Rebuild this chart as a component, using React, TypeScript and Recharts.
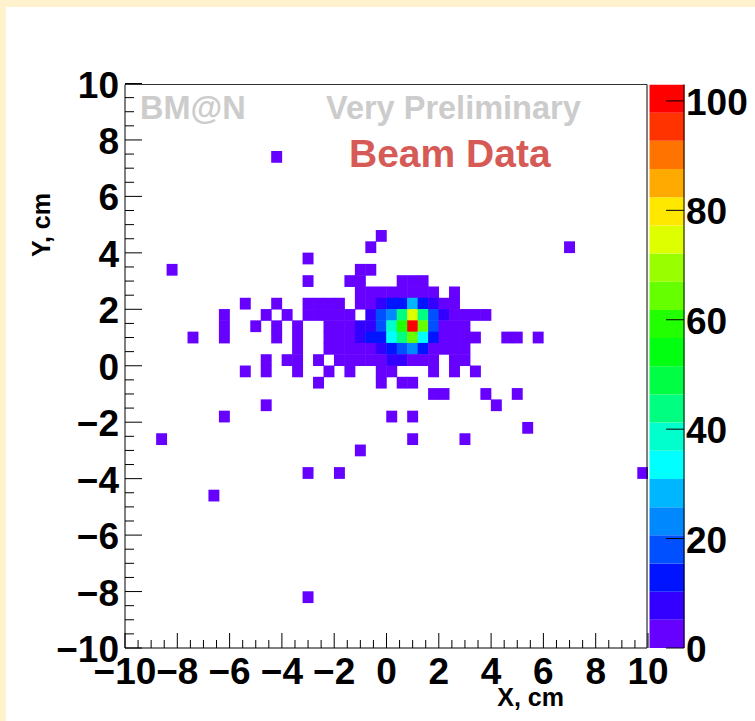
import React from 'react';
import {
  ScatterChart, Scatter, XAxis, YAxis, BarChart, Bar,
} from 'recharts';

// ---------------- data ----------------
const BIN = 0.4; // cm, bin width in X and Y

// lower-left corner of every non-empty bin (x, y) and its count
const cellX: number[] = [
  -4.4,
  -0.4,
  -0.8, 6.8,
  -3.2,
  -8.4, -1.2, -0.8,
  -3.2, -1.6, -1.2, 0.4, 0.8, 1.2,
  -1.2, -0.8, -0.4, 0.0, 0.4, 0.8, 1.2, 1.6, 2.4,
  -5.6, -4.4, -3.2, -2.8, -2.4, -2.0, -1.2, -0.8, -0.4, 0.0, 0.4, 0.8, 1.2, 1.6, 2.0, 2.4,
  -6.4, -4.8, -4.0, -3.2, -2.8, -2.4, -2.0, -1.6, -0.8, -0.4, 0.0, 0.4, 0.8, 1.2, 1.6, 2.0, 2.4, 2.8, 3.2, 3.6,
  -6.4, -5.2, -4.4, -3.6, -2.4, -2.0, -1.6, -1.2, -0.8, -0.4, 0.0, 0.4, 0.8, 1.2, 1.6, 2.0, 2.4, 2.8,
  -7.6, -6.4, -4.4, -3.6, -2.4, -2.0, -1.6, -1.2, -0.8, -0.4, 0.0, 0.4, 0.8, 1.2, 1.6, 2.0, 2.4, 2.8, 3.2, 4.4, 4.8, 5.6,
  -3.6, -2.4, -2.0, -1.6, -1.2, -0.8, -0.4, 0.0, 0.4, 0.8, 1.2, 1.6, 2.0, 2.4, 2.8,
  -4.8, -4.0, -3.6, -2.8, -2.0, -1.6, -1.2, -0.8, -0.4, 0.0, 0.4, 0.8, 1.2, 1.6, 2.4, 2.8,
  -5.6, -4.8, -3.6, -2.4, -1.6, -0.4, 0.0, 1.6, 2.4, 3.2,
  -2.8, -0.4, 0.4, 0.8,
  1.6, 2.0, 3.6, 4.8,
  -4.8, 4.0,
  -6.4, 0.0, 0.8,
  5.2,
  -8.8, 0.8, 2.8,
  -1.2,
  -3.2, -2.0, 9.6,
  -6.8,
  -3.2,
];

const cellY: number[] = [
  7.2,
  4.4,
  4.0, 4.0,
  3.6,
  3.2, 3.2, 3.2,
  2.8, 2.8, 2.8, 2.8, 2.8, 2.8,
  2.4, 2.4, 2.4, 2.4, 2.4, 2.4, 2.4, 2.4, 2.4,
  2.0, 2.0, 2.0, 2.0, 2.0, 2.0, 2.0, 2.0, 2.0, 2.0, 2.0, 2.0, 2.0, 2.0, 2.0, 2.0,
  1.6, 1.6, 1.6, 1.6, 1.6, 1.6, 1.6, 1.6, 1.6, 1.6, 1.6, 1.6, 1.6, 1.6, 1.6, 1.6, 1.6, 1.6, 1.6, 1.6,
  1.2, 1.2, 1.2, 1.2, 1.2, 1.2, 1.2, 1.2, 1.2, 1.2, 1.2, 1.2, 1.2, 1.2, 1.2, 1.2, 1.2, 1.2,
  0.8, 0.8, 0.8, 0.8, 0.8, 0.8, 0.8, 0.8, 0.8, 0.8, 0.8, 0.8, 0.8, 0.8, 0.8, 0.8, 0.8, 0.8, 0.8, 0.8, 0.8, 0.8,
  0.4, 0.4, 0.4, 0.4, 0.4, 0.4, 0.4, 0.4, 0.4, 0.4, 0.4, 0.4, 0.4, 0.4, 0.4,
  0.0, 0.0, 0.0, 0.0, 0.0, 0.0, 0.0, 0.0, 0.0, 0.0, 0.0, 0.0, 0.0, 0.0, 0.0, 0.0,
  -0.4, -0.4, -0.4, -0.4, -0.4, -0.4, -0.4, -0.4, -0.4, -0.4,
  -0.8, -0.8, -0.8, -0.8,
  -1.2, -1.2, -1.2, -1.2,
  -1.6, -1.6,
  -2.0, -2.0, -2.0,
  -2.4,
  -2.8, -2.8, -2.8,
  -3.2,
  -4.0, -4.0, -4.0,
  -4.8,
  -8.4,
];

const cellCount: number[] = [
  1,
  1,
  1, 1,
  1,
  1, 1, 1,
  1, 1, 1, 1, 2, 1,
  1, 2, 2, 3, 3, 4, 2, 1, 1,
  1, 1, 1, 1, 1, 2, 2, 4, 8, 13, 12, 28, 12, 7, 3, 1,
  1, 1, 1, 1, 2, 1, 2, 3, 9, 17, 23, 44, 75, 45, 18, 9, 4, 2, 1, 1,
  1, 1, 1, 1, 2, 3, 4, 8, 9, 19, 38, 58, 103, 64, 18, 5, 2, 1,
  1, 1, 1, 1, 1, 2, 3, 7, 13, 14, 34, 43, 65, 33, 12, 4, 2, 1, 1, 1, 1, 1,
  1, 1, 2, 2, 3, 4, 8, 13, 18, 23, 13, 4, 2, 1, 1,
  1, 1, 1, 1, 1, 2, 2, 3, 4, 7, 8, 5, 3, 2, 1, 1,
  1, 1, 1, 1, 1, 2, 2, 1, 1, 1,
  1, 1, 1, 1,
  1, 1, 1, 1,
  1, 1,
  1, 1, 1,
  1,
  1, 1, 1,
  1,
  1, 1, 1,
  1,
  1,
];

const xMajorTicks: number[] = [-10, -8, -6, -4, -2, 0, 2, 4, 6, 8, 10];
const yMajorTicks: number[] = [-10, -8, -6, -4, -2, 0, 2, 4, 6, 8, 10];
const zTicks: number[] = [0, 20, 40, 60, 80, 100];

// ROOT-like 20-contour palette (bottom -> top)
const paletteColors: string[] = [
  '#6600ff', '#3300ff', '#0014ff', '#0050ff', '#0088ff',
  '#00b6ff', '#00ffff', '#00ffcc', '#00ff80', '#00ff44',
  '#00ff11', '#22ff00', '#66ff00', '#99ff00', '#ddff00',
  '#ffe800', '#ffaa00', '#ff7400', '#ff3300', '#ff0000',
];

// ---------------- derived ----------------
const W = 755;
const H = 721;
const AX = 1; // thickness reserved for each axis
const PLOT = { left: 125, right: 647, top: 84.5, bottom: 648 };
const M = { left: PLOT.left - AX, right: W - PLOT.right - AX, top: PLOT.top - AX, bottom: H - PLOT.bottom - AX };
const PLOT_W = PLOT.right - PLOT.left;
const PLOT_H = PLOT.bottom - PLOT.top;
const CELL_W = (PLOT_W * BIN) / 20;
const CELL_H = (PLOT_H * BIN) / 20;

const zMax = Math.max(...cellCount);
const nBands = paletteColors.length;
const colorFor = (v: number) =>
  paletteColors[Math.min(nBands - 1, Math.floor(v / (zMax / nBands)))];

const cells = cellX.map((x, i) => ({ x: x + BIN / 2, y: cellY[i] + BIN / 2, z: cellCount[i] }));

const minorFrom = (majors: number[]) => {
  const out: number[] = [];
  for (let i = 0; i < majors.length - 1; i++) {
    const a = majors[i];
    const step = (majors[i + 1] - a) / 4;
    for (let j = 0; j < 4; j++) out.push(a + j * step);
  }
  out.push(majors[majors.length - 1]);
  return out;
};
const xTicks = minorFrom(xMajorTicks);
const yTicks = minorFrom(yMajorTicks);

const paletteRow = [
  paletteColors.reduce((acc: any, _c, i) => {
    acc[`b${i}`] = zMax / nBands;
    return acc;
  }, { name: 'z' }),
];

const FONT = '"Liberation Sans", Arial, Helvetica, sans-serif';
const fmt = (v: number) => (v < 0 ? '\u2212' + Math.abs(v) : String(v));
const isMajor = (v: number, majors: number[]) => majors.some((m) => Math.abs(m - v) < 1e-6);

const XTick = (props: any) => {
  const { x, payload } = props;
  const v = payload.value;
  const major = isMajor(v, xMajorTicks);
  const y0 = PLOT.bottom;
  return (
    <g>
      <line x1={x} x2={x} y1={y0} y2={y0 - (major ? 15 : 8)} stroke="#000" strokeWidth={1} />
      {major && (
        <text x={x} y={y0 + 36} textAnchor="middle" fontFamily={FONT} fontWeight="bold" fontSize={37} fill="#000">
          {fmt(v)}
        </text>
      )}
    </g>
  );
};

const YTick = (props: any) => {
  const { y, payload } = props;
  const v = payload.value;
  const major = isMajor(v, yMajorTicks);
  const x0 = PLOT.left;
  return (
    <g>
      <line x1={x0} x2={x0 + (major ? 17 : 9)} y1={y} y2={y} stroke="#000" strokeWidth={1} />
      {major && (
        <text x={x0 - 6} y={y + 14} textAnchor="end" fontFamily={FONT} fontWeight="bold" fontSize={37} fill="#000">
          {fmt(v)}
        </text>
      )}
    </g>
  );
};

const PAL_RIGHT = 684;
const ZTick = (props: any) => {
  const { y, payload } = props;
  const x0 = PAL_RIGHT;
  return (
    <g>
      <line x1={x0 - 18} x2={x0} y1={y} y2={y} stroke="#000" strokeWidth={1} />
      <text x={x0 + 2} y={y + 14} textAnchor="start" fontFamily={FONT} fontWeight="bold" fontSize={37} fill="#000">
        {String(payload.value)}
      </text>
    </g>
  );
};

const renderCell = (props: any) => {
  const { cx, cy, payload } = props;
  if (cx == null || cy == null) return <g />;
  return (
    <rect
      x={cx - CELL_W / 2 - 0.25}
      y={cy - CELL_H / 2 - 0.25}
      width={CELL_W + 0.5}
      height={CELL_H + 0.5}
      fill={colorFor(payload.z)}
      stroke="none"
    />
  );
};

export default function App() {
  return (
    <div style={{ position: 'absolute', left: 0, top: 0, width: W, height: H, background: '#ffffff', overflow: 'hidden' }}>
      <div style={{ position: 'absolute', left: 0, top: 0, width: W, height: 7, background: '#fff2cc' }} />
      <div style={{ position: 'absolute', left: 0, top: 0, width: 6, height: H, background: '#fff2cc' }} />

      <div style={{ position: 'absolute', left: 0, top: 0 }}>
        <ScatterChart width={W} height={H} margin={M}>
          <XAxis
            type="number"
            dataKey="x"
            domain={[-10, 10]}
            allowDataOverflow
            ticks={xTicks}
            interval={0}
            height={AX}
            tickSize={0}
            tickMargin={0}
            tickLine={false}
            axisLine={false}
            tick={<XTick />}
          />
          <YAxis
            type="number"
            dataKey="y"
            domain={[-10, 10]}
            allowDataOverflow
            ticks={yTicks}
            interval={0}
            width={AX}
            tickSize={0}
            tickMargin={0}
            tickLine={false}
            axisLine={false}
            tick={<YTick />}
          />
          <Scatter data={cells} shape={renderCell} isAnimationActive={false} />
        </ScatterChart>
      </div>

      <div style={{ position: 'absolute', left: 0, top: 0 }}>
        <BarChart
          width={W}
          height={H}
          data={paletteRow}
          margin={{ left: 649.5, right: W - PAL_RIGHT - AX, top: PLOT.top, bottom: H - PLOT.bottom }}
          barCategoryGap={0}
          barGap={0}
        >
          <XAxis dataKey="name" hide />
          <YAxis
            orientation="right"
            type="number"
            domain={[0, zMax]}
            allowDataOverflow
            ticks={zTicks}
            interval={0}
            width={AX}
            tickSize={0}
            tickMargin={0}
            tickLine={false}
            axisLine={false}
            tick={<ZTick />}
          />
          {paletteColors.map((c, i) => (
            <Bar key={i} dataKey={`b${i}`} stackId="z" fill={c} isAnimationActive={false} />
          ))}
        </BarChart>
      </div>

      <svg width={W} height={H} style={{ position: 'absolute', left: 0, top: 0, pointerEvents: 'none' }}>
        {/* frame of the plot and palette */}
        <line x1={PLOT.left} x2={PLOT.right} y1={PLOT.top} y2={PLOT.top} stroke="#333" strokeWidth={1} />
        <line x1={PLOT.right} x2={PLOT.right} y1={PLOT.top} y2={PLOT.bottom} stroke="#000" strokeWidth={1} />
        <line x1={PLOT.left} x2={PLOT.right} y1={PLOT.bottom} y2={PLOT.bottom} stroke="#000" strokeWidth={1} />
        <line x1={PLOT.left} x2={PLOT.left} y1={PLOT.top} y2={PLOT.bottom} stroke="#000" strokeWidth={1} />
        <line x1={PAL_RIGHT} x2={PAL_RIGHT} y1={PLOT.top} y2={PLOT.bottom} stroke="#000" strokeWidth={1} />
        <text x={140} y={119} fontFamily={FONT} fontWeight="bold" fontSize={32.5} fill="#cccccc">BM@N</text>
        <text x={326} y={119} fontFamily={FONT} fontWeight="bold" fontSize={32.5} fill="#cccccc">Very Preliminary</text>
        <text x={349} y={167} fontFamily={FONT} fontWeight="bold" fontSize={39} fill="#d65a55">Beam Data</text>
        <text x={564} y={706} textAnchor="end" fontFamily={FONT} fontWeight="bold" fontSize={25} fill="#000">X, cm</text>
        <text x={50} y={193} textAnchor="end" transform="rotate(-90 50 193)" fontFamily={FONT} fontWeight="bold" fontSize={25} fill="#000">Y, cm</text>
      </svg>
    </div>
  );
}
